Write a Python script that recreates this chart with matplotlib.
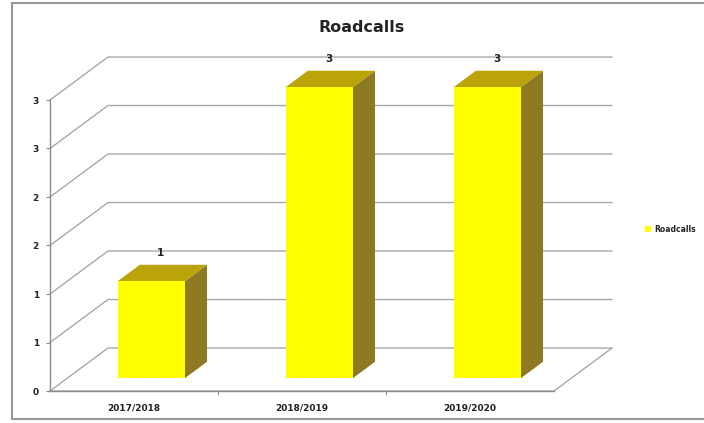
import numpy as np
import matplotlib
matplotlib.use("Agg")
import matplotlib.pyplot as plt
from matplotlib.patches import Polygon, Patch
from matplotlib.lines import Line2D
from matplotlib.ticker import FuncFormatter

# data
categories = ["2017/2018", "2018/2019", "2019/2020"]
roadcalls = [1, 3, 3]
y_ticks = [0, 0.5, 1, 1.5, 2, 2.5, 3]

# colours of the excel style 3d column
front_col = "#FFFF00"
top_col = "#BBA30A"
side_col = "#8E7A22"
grid_col = "#A8A8A8"

# depth of the 3d box, in data units (x per category, y per value)
DX, DY = 0.345, 0.443
d0, d1 = 0.30, 0.68   # front and back of the bars, as share of depth
half_w = 0.2

fig = plt.figure(figsize=(7.04, 4.23), dpi=100)
ax = fig.add_axes([50 / 704, 32 / 423, 504 / 704, 291 / 423])
ax.set_xlim(-0.5, 2.5)
ax.set_ylim(0, 3)
for s in ax.spines.values():
    s.set_visible(False)

n = len(categories)
# side wall + back wall gridlines
for v in y_ticks:
    ax.plot([-0.5, -0.5 + DX, n - 0.5 + DX], [v, v + DY, v + DY],
            color=grid_col, lw=1, clip_on=False, zorder=1)
# floor
ax.plot([-0.5, n - 0.5, n - 0.5 + DX], [0, 0, DY],
        color=grid_col, lw=1, clip_on=False, zorder=1)
# axis lines
ax.plot([-0.5, -0.5], [0, 3], color="#8C8C8C", lw=1, clip_on=False, zorder=2)
ax.plot([-0.5, n - 0.5], [0, 0], color="#8C8C8C", lw=1, clip_on=False, zorder=2)

for i, val in enumerate(roadcalls):
    xl = i - half_w + d0 * DX
    xr = i + half_w + d0 * DX
    yb = d0 * DY
    yt = val + d0 * DY
    ddx = (d1 - d0) * DX
    ddy = (d1 - d0) * DY
    side = Polygon([(xr, yb), (xr + ddx, yb + ddy), (xr + ddx, yt + ddy), (xr, yt)],
                   closed=True, fc=side_col, ec="none", clip_on=False, zorder=3)
    top = Polygon([(xl, yt), (xr, yt), (xr + ddx, yt + ddy), (xl + ddx, yt + ddy)],
                  closed=True, fc=top_col, ec="none", clip_on=False, zorder=3)
    ax.add_patch(side)
    ax.add_patch(top)
    ax.bar(i + d0 * DX, val, width=2 * half_w, bottom=yb, color=front_col,
           clip_on=False, zorder=4)
    ax.text(i + 0.16, yt + ddy + 0.07, str(val), ha="center", va="bottom",
            fontsize=7.5, fontweight="heavy", color="#222222")

ax.set_yticks(y_ticks)
ax.yaxis.set_major_formatter(FuncFormatter(lambda v, p: str(int(v + 0.5))))
ax.tick_params(axis="y", length=3, width=0.8, color="#8C8C8C", pad=5,
               labelsize=6.5, labelcolor="#222222")
for lab in ax.get_yticklabels():
    lab.set_fontweight("bold")

ax.set_xticks(range(n))
ax.set_xticklabels(categories, fontsize=6.5, fontweight="bold", color="#222222")
ax.tick_params(axis="x", length=0, pad=9)
for b in np.arange(0.5, n - 0.5, 1):
    ax.plot([b, b], [0, -0.03], color="#8C8C8C", lw=0.8, clip_on=False)

fig.text(362 / 704, 1 - 27 / 423, "Roadcalls", ha="center", va="center",
         fontsize=11.5, fontweight="heavy", color="#222222")

leg = fig.legend(handles=[Patch(fc=front_col, ec="none", label="Roadcalls")],
                 loc="center left", bbox_to_anchor=(640 / 704, 1 - 229 / 423),
                 frameon=False, fontsize=5.5, handlelength=0.8, handleheight=0.8,
                 handletextpad=0.4, borderpad=0.2)
for t in leg.get_texts():
    t.set_fontweight("bold")
    t.set_color("#222222")

# chart border
fig.add_artist(Line2D([12 / 704, 12 / 704], [1 - 3 / 423, 1 - 419 / 423],
                      transform=fig.transFigure, color="#999999", lw=1.5))
fig.add_artist(Line2D([12 / 704, 1], [1 - 3 / 423, 1 - 3 / 423],
                      transform=fig.transFigure, color="#999999", lw=1.5))
fig.add_artist(Line2D([12 / 704, 1], [1 - 419 / 423, 1 - 419 / 423],
                      transform=fig.transFigure, color="#999999", lw=1.5))

fig.savefig("out.png", dpi=100)
